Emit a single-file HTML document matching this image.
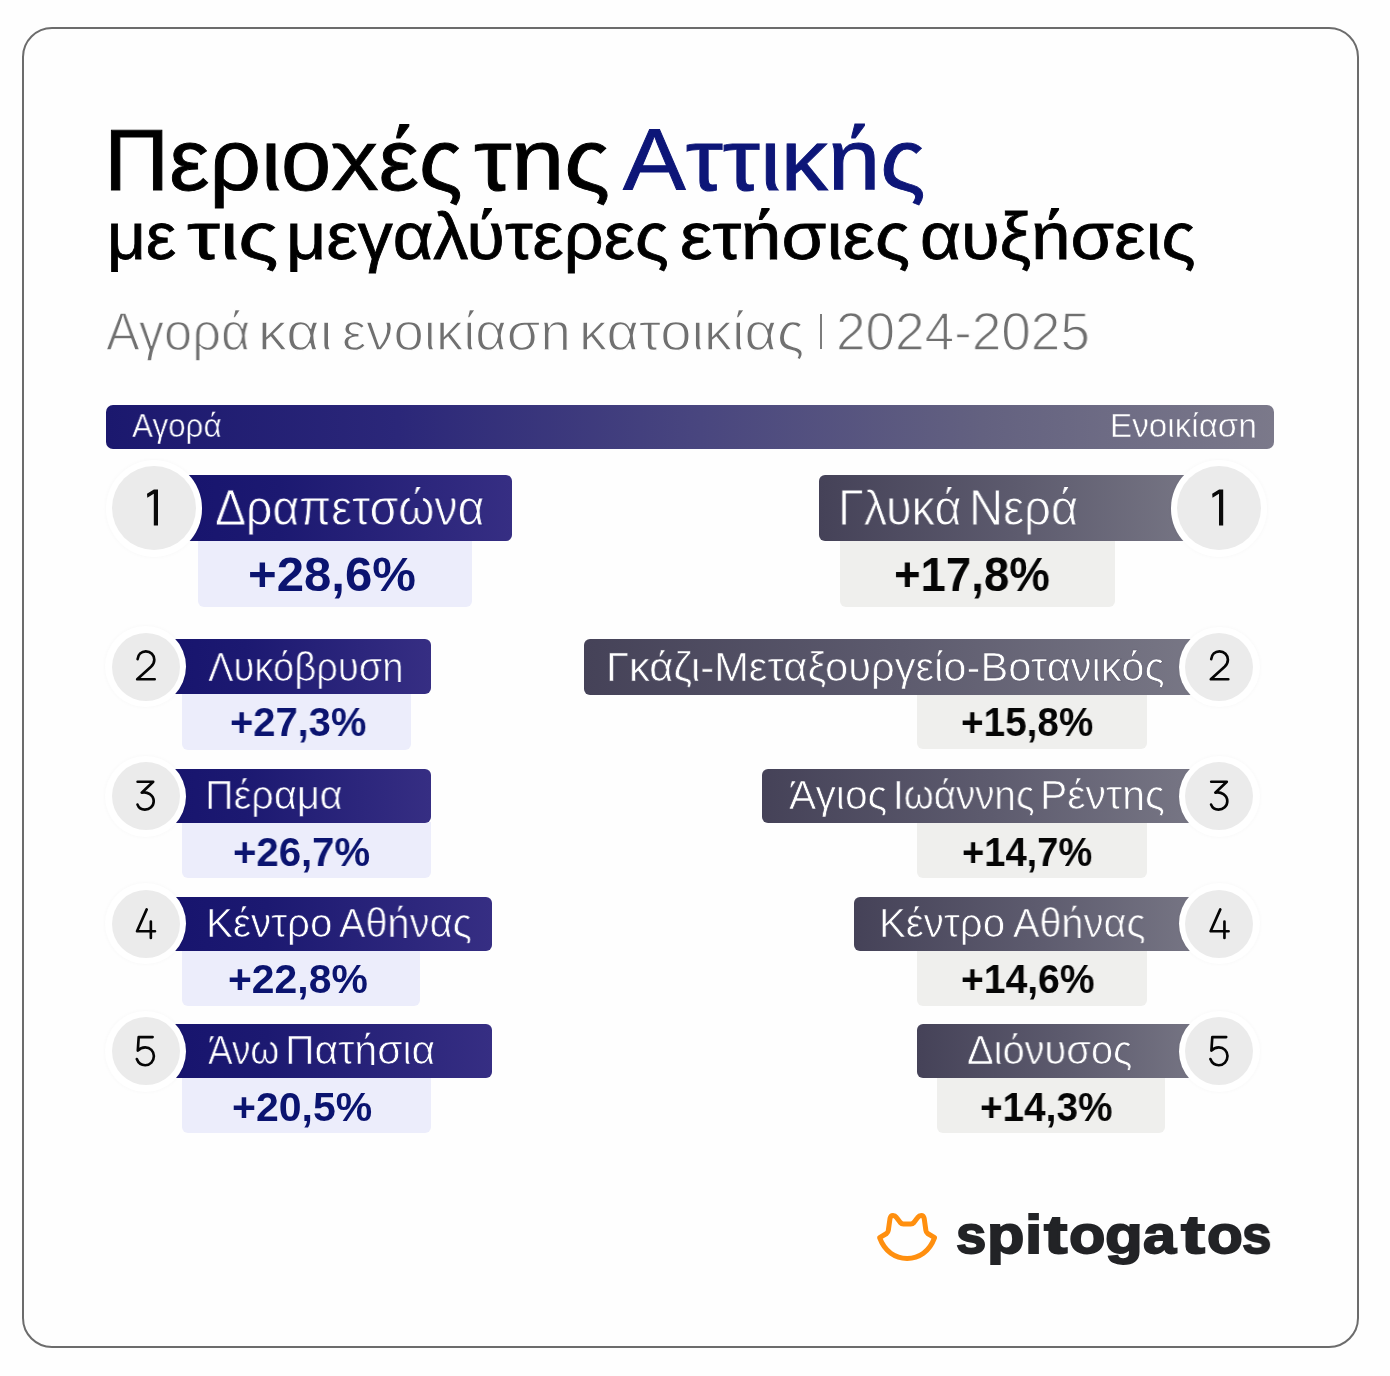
<!DOCTYPE html>
<html><head><meta charset="utf-8"><title>Περιοχές της Αττικής</title>
<style>
html,body{margin:0;padding:0}
body{width:1390px;height:1376px;position:relative;overflow:hidden;background:#fefefe;font-family:"Liberation Sans", sans-serif}
.frame{position:absolute;left:22px;top:27px;width:1332.5px;height:1316.5px;border:2px solid #6c6c6c;border-radius:30px;background:#fefefe}
.b{position:absolute;display:block}
.t{position:absolute;white-space:nowrap;line-height:1;transform-origin:0 0;will-change:transform;}
.h{display:inline-block;clip-path:inset(-50% -5% 15.4% -5%)}
.x{display:inline-block;transform:scaleY(.72);transform-origin:50% 31.6%}
</style></head><body>
<div class="frame"></div>
<div class="b" style="left:105.5px;top:405.0px;width:1168.7px;height:44.3px;border-radius:7px;background:linear-gradient(90deg,#1b186e 0%,#2b2779 25%,#48457f 50%,#636180 75%,#7b798a 100%);"></div>
<div class="b" style="left:819.5px;top:313.6px;width:2.7px;height:35.7px;background:#7c7c7c;"></div>
<div class="b" style="left:197.8px;top:539.8px;width:274.3px;height:67.1px;background:#ecedfb;border-radius:0 0 6px 6px;"></div>
<div class="b" style="left:153.9px;top:475.0px;width:357.9px;height:65.8px;background:linear-gradient(90deg,#16136d 0%,#1c1971 35%,#362e83 100%);border-radius:0 6px 6px 0;"></div>
<div class="b" style="left:105.5px;top:459.8px;width:96.8px;height:96.8px;border-radius:50%;background:#fff;box-shadow:0 0 4px rgba(0,0,0,0.03);"></div>
<div class="b" style="left:111.9px;top:466.2px;width:84.0px;height:84.0px;border-radius:50%;background:#ebebeb;"></div>
<div class="b" style="left:182.3px;top:693.5px;width:228.3px;height:56.1px;background:#ecedfb;border-radius:0 0 6px 6px;"></div>
<div class="b" style="left:145.6px;top:639.2px;width:285.3px;height:55.3px;background:linear-gradient(90deg,#16136d 0%,#1c1971 35%,#362e83 100%);border-radius:0 6px 6px 0;"></div>
<div class="b" style="left:105.2px;top:626.4px;width:80.8px;height:80.8px;border-radius:50%;background:#fff;box-shadow:0 0 4px rgba(0,0,0,0.03);"></div>
<div class="b" style="left:111.6px;top:632.8px;width:68.0px;height:68.0px;border-radius:50%;background:#ebebeb;"></div>
<div class="b" style="left:182.3px;top:821.7px;width:248.6px;height:55.9px;background:#ecedfb;border-radius:0 0 6px 6px;"></div>
<div class="b" style="left:145.8px;top:768.9px;width:285.1px;height:53.8px;background:linear-gradient(90deg,#16136d 0%,#1c1971 35%,#362e83 100%);border-radius:0 6px 6px 0;"></div>
<div class="b" style="left:105.4px;top:755.9px;width:80.8px;height:80.8px;border-radius:50%;background:#fff;box-shadow:0 0 4px rgba(0,0,0,0.03);"></div>
<div class="b" style="left:111.8px;top:762.3px;width:68.0px;height:68.0px;border-radius:50%;background:#ebebeb;"></div>
<div class="b" style="left:182.3px;top:949.9px;width:237.4px;height:55.8px;background:#ecedfb;border-radius:0 0 6px 6px;"></div>
<div class="b" style="left:145.8px;top:896.8px;width:346.6px;height:54.1px;background:linear-gradient(90deg,#16136d 0%,#1c1971 35%,#362e83 100%);border-radius:0 6px 6px 0;"></div>
<div class="b" style="left:105.4px;top:883.2px;width:80.8px;height:80.8px;border-radius:50%;background:#fff;box-shadow:0 0 4px rgba(0,0,0,0.03);"></div>
<div class="b" style="left:111.8px;top:889.6px;width:68.0px;height:68.0px;border-radius:50%;background:#ebebeb;"></div>
<div class="b" style="left:182.3px;top:1077.2px;width:248.6px;height:55.8px;background:#ecedfb;border-radius:0 0 6px 6px;"></div>
<div class="b" style="left:145.8px;top:1024.3px;width:346.6px;height:53.9px;background:linear-gradient(90deg,#16136d 0%,#1c1971 35%,#362e83 100%);border-radius:0 6px 6px 0;"></div>
<div class="b" style="left:105.4px;top:1010.9px;width:80.8px;height:80.8px;border-radius:50%;background:#fff;box-shadow:0 0 4px rgba(0,0,0,0.03);"></div>
<div class="b" style="left:111.8px;top:1017.3px;width:68.0px;height:68.0px;border-radius:50%;background:#ebebeb;"></div>
<div class="b" style="left:840.4px;top:539.8px;width:274.5px;height:67.1px;background:#efefed;border-radius:0 0 6px 6px;"></div>
<div class="b" style="left:818.6px;top:475.0px;width:400.4px;height:65.8px;background:linear-gradient(90deg,#454258 0%,#5d5b6e 50%,#7a7987 100%);border-radius:6px 0 0 6px;"></div>
<div class="b" style="left:1170.6px;top:459.8px;width:96.8px;height:96.8px;border-radius:50%;background:#fff;box-shadow:0 0 4px rgba(0,0,0,0.03);"></div>
<div class="b" style="left:1177.0px;top:466.2px;width:84.0px;height:84.0px;border-radius:50%;background:#ebebeb;"></div>
<div class="b" style="left:917.2px;top:693.6px;width:230.1px;height:55.9px;background:#efefed;border-radius:0 0 6px 6px;"></div>
<div class="b" style="left:583.5px;top:639.2px;width:635.8px;height:55.4px;background:linear-gradient(90deg,#454258 0%,#5d5b6e 50%,#7a7987 100%);border-radius:6px 0 0 6px;"></div>
<div class="b" style="left:1178.9px;top:626.5px;width:80.8px;height:80.8px;border-radius:50%;background:#fff;box-shadow:0 0 4px rgba(0,0,0,0.03);"></div>
<div class="b" style="left:1185.3px;top:632.9px;width:68.0px;height:68.0px;border-radius:50%;background:#ebebeb;"></div>
<div class="b" style="left:917.3px;top:821.6px;width:230.2px;height:56.2px;background:#efefed;border-radius:0 0 6px 6px;"></div>
<div class="b" style="left:761.8px;top:768.8px;width:457.5px;height:53.8px;background:linear-gradient(90deg,#454258 0%,#5d5b6e 50%,#7a7987 100%);border-radius:6px 0 0 6px;"></div>
<div class="b" style="left:1178.9px;top:755.9px;width:80.8px;height:80.8px;border-radius:50%;background:#fff;box-shadow:0 0 4px rgba(0,0,0,0.03);"></div>
<div class="b" style="left:1185.3px;top:762.3px;width:68.0px;height:68.0px;border-radius:50%;background:#ebebeb;"></div>
<div class="b" style="left:917.3px;top:950.0px;width:230.2px;height:55.5px;background:#efefed;border-radius:0 0 6px 6px;"></div>
<div class="b" style="left:853.6px;top:897.0px;width:365.7px;height:54.0px;background:linear-gradient(90deg,#454258 0%,#5d5b6e 50%,#7a7987 100%);border-radius:6px 0 0 6px;"></div>
<div class="b" style="left:1178.9px;top:883.2px;width:80.8px;height:80.8px;border-radius:50%;background:#fff;box-shadow:0 0 4px rgba(0,0,0,0.03);"></div>
<div class="b" style="left:1185.3px;top:889.6px;width:68.0px;height:68.0px;border-radius:50%;background:#ebebeb;"></div>
<div class="b" style="left:936.7px;top:1077.4px;width:228.7px;height:55.5px;background:#efefed;border-radius:0 0 6px 6px;"></div>
<div class="b" style="left:917.3px;top:1024.3px;width:302.0px;height:54.1px;background:linear-gradient(90deg,#454258 0%,#5d5b6e 50%,#7a7987 100%);border-radius:6px 0 0 6px;"></div>
<div class="b" style="left:1178.9px;top:1010.9px;width:80.8px;height:80.8px;border-radius:50%;background:#fff;box-shadow:0 0 4px rgba(0,0,0,0.03);"></div>
<div class="b" style="left:1185.3px;top:1017.3px;width:68.0px;height:68.0px;border-radius:50%;background:#ebebeb;"></div>
<svg class="b" style="left:0;top:0" width="1390" height="1376" viewBox="0 0 1390 1376">
<path d="M 879.6 1237.6 L 886.6 1233.5 Q 888 1232.5 888.3 1230.5 L 890 1218.5 Q 890.6 1215.4 893 1215.4 Q 895 1215.4 896.5 1217.5 L 900.3 1222.5 Q 901.5 1223.9 903.5 1223.9 L 910.7 1223.9 Q 912.7 1223.9 913.9 1222.5 L 917.7 1217.5 Q 919.2 1215.4 921.2 1215.4 Q 923.6 1215.4 924.2 1218.5 L 925.9 1230.5 Q 926.2 1232.5 927.6 1233.5 L 934.6 1237.6 C 929.5 1251.5 919 1258.4 907.1 1258.4 C 895.2 1258.4 884.7 1251.5 879.6 1237.6 Z" fill="none" stroke="#ff8f0f" stroke-width="5" stroke-linejoin="round" stroke-linecap="round"/>
<path d="M153.9 489.4 L158 489.4 L158 525.4 L153.8 525.4 L153.8 493.7 L147.3 497.7 L147 493.7 Z" fill="#0a0a0a"/>
<path d="M153.9 489.4 L158 489.4 L158 525.4 L153.8 525.4 L153.8 493.7 L147.3 497.7 L147 493.7 Z" fill="#0a0a0a" transform="translate(1065.2 0)"/>
<g fill="none" stroke="#050505" stroke-width="2.65" stroke-linecap="round" stroke-linejoin="round">
<path d="M1211.2 659.2 C1211.6 654.6 1215 651.4 1219.4 651.4 C1224.2 651.4 1227.9 655 1227.9 659.8 C1227.9 662.6 1226.9 664.6 1224.6 666.8 L1210.8 679.25 H1228.3"/>
<path d="M1211.2 659.2 C1211.6 654.6 1215 651.4 1219.4 651.4 C1224.2 651.4 1227.9 655 1227.9 659.8 C1227.9 662.6 1226.9 664.6 1224.6 666.8 L1210.8 679.25 H1228.3" transform="translate(-1073.6 0)"/>
<path d="M1211.2 781.7 H1226.8 L1215.3 792.7 C1221 791.4 1227.3 795 1227.3 801.3 C1227.3 806.4 1223.2 809.6 1218.5 809.6 C1214.7 809.6 1212.2 807.6 1211.1 804.6"/>
<path d="M1211.2 781.7 H1226.8 L1215.3 792.7 C1221 791.4 1227.3 795 1227.3 801.3 C1227.3 806.4 1223.2 809.6 1218.5 809.6 C1214.7 809.6 1212.2 807.6 1211.1 804.6" transform="translate(-1073.6 0)"/>
<path d="M1220.3 909.4 L1210.6 931.2 H1228.6 M1224.45 921.6 V938.0"/>
<path d="M1220.3 909.4 L1210.6 931.2 H1228.6 M1224.45 921.6 V938.0" transform="translate(-1073.6 0)"/>
<path d="M1226.2 1037.05 H1212.3 L1211.4 1050.7 C1213.2 1048.6 1215.8 1047.3 1218.8 1047.3 C1223.7 1047.3 1227.5 1051.1 1227.5 1056.1 C1227.5 1061.2 1223.7 1065.2 1218.8 1065.2 C1214.8 1065.2 1211.8 1062.7 1210.4 1059.0"/>
<path d="M1226.2 1037.05 H1212.3 L1211.4 1050.7 C1213.2 1048.6 1215.8 1047.3 1218.8 1047.3 C1223.7 1047.3 1227.5 1051.1 1227.5 1056.1 C1227.5 1061.2 1223.7 1065.2 1218.8 1065.2 C1214.8 1065.2 1211.8 1062.7 1210.4 1059.0" transform="translate(-1073.6 0)"/>
</g>
</svg>
<div class="t" style="left:103.89px;top:115.82px;font-size:87.10px;font-weight:400;color:#000;transform:scaleX(1.0373);-webkit-text-stroke:0.90px #000;">Περιο<span class="x">χ</span>ές</div>
<div class="t" style="left:473.85px;top:115.82px;font-size:87.10px;font-weight:400;color:#000;transform:scaleX(1.0906);-webkit-text-stroke:0.90px #000;">τ<span class="h">η</span>ς</div>
<div class="t" style="left:622.95px;top:115.82px;font-size:87.10px;font-weight:400;color:#0d1678;transform:scaleX(1.0795);-webkit-text-stroke:0.90px #0d1678;">Αττικ<span class="h">ή</span>ς</div>
<div class="t" style="left:106.67px;top:203.17px;font-size:66.67px;font-weight:400;color:#000;transform:scaleX(1.0156);-webkit-text-stroke:0.80px #000;">με</div>
<div class="t" style="left:187.00px;top:203.17px;font-size:66.67px;font-weight:400;color:#000;transform:scaleX(1.2487);-webkit-text-stroke:0.80px #000;">τις</div>
<div class="t" style="left:286.22px;top:203.17px;font-size:66.67px;font-weight:400;color:#000;transform:scaleX(1.0516);-webkit-text-stroke:0.80px #000;">μεγαλύτερες</div>
<div class="t" style="left:679.63px;top:203.17px;font-size:66.67px;font-weight:400;color:#000;transform:scaleX(1.0902);-webkit-text-stroke:0.80px #000;">ετ<span class="h">ή</span>σιες</div>
<div class="t" style="left:920.19px;top:203.17px;font-size:66.67px;font-weight:400;color:#000;transform:scaleX(1.0609);-webkit-text-stroke:0.80px #000;">αυξ<span class="h">ή</span>σεις</div>
<div class="t" style="left:105.55px;top:304.19px;font-size:54.06px;font-weight:400;color:#707070;transform:scaleX(0.9352);-webkit-text-stroke:1.30px #fefefe;">Αγορά</div>
<div class="t" style="left:257.73px;top:304.19px;font-size:54.06px;font-weight:400;color:#707070;transform:scaleX(1.0702);-webkit-text-stroke:1.30px #fefefe;">και</div>
<div class="t" style="left:342.25px;top:304.19px;font-size:54.06px;font-weight:400;color:#707070;transform:scaleX(1.0086);-webkit-text-stroke:1.30px #fefefe;">ενοικίασ<span class="h">η</span></div>
<div class="t" style="left:579.34px;top:304.19px;font-size:54.06px;font-weight:400;color:#707070;transform:scaleX(1.0393);-webkit-text-stroke:1.30px #fefefe;">κατοικίας</div>
<div class="t" style="left:836.46px;top:304.19px;font-size:54.06px;font-weight:400;color:#707070;transform:scaleX(0.9823);-webkit-text-stroke:1.30px #fefefe;">2024-2025</div>
<div class="t" style="left:132.45px;top:409.55px;font-size:32.61px;font-weight:400;color:#fff;transform:scaleX(0.9634);-webkit-text-stroke:0.50px #1f1c71;">Αγορά</div>
<div class="t" style="left:1109.65px;top:409.55px;font-size:32.61px;font-weight:400;color:#fff;transform:scaleX(1.0192);-webkit-text-stroke:0.50px #747287;">Ενοικίασ<span class="h">η</span></div>
<div class="t" style="left:215.35px;top:484.29px;font-size:49.07px;font-weight:400;color:#fff;transform:scaleX(0.9458);-webkit-text-stroke:0.86px #241f77;">Δραπετσώνα</div>
<div class="t" style="left:207.95px;top:647.97px;font-size:40.14px;font-weight:400;color:#fff;transform:scaleX(0.9513);-webkit-text-stroke:0.70px #242077;">Λυκόβρυσ<span class="h">η</span></div>
<div class="t" style="left:205.35px;top:776.07px;font-size:40.14px;font-weight:400;color:#fff;transform:scaleX(0.9882);-webkit-text-stroke:0.70px #201c74;">Πέραμα</div>
<div class="t" style="left:205.59px;top:903.97px;font-size:40.14px;font-weight:400;color:#fff;transform:scaleX(1.0066);-webkit-text-stroke:0.70px #1c1971;">Κέντρο</div>
<div class="t" style="left:338.95px;top:903.97px;font-size:40.14px;font-weight:400;color:#fff;transform:scaleX(0.9902);-webkit-text-stroke:0.70px #2c267c;">Αθ<span class="h">ή</span>νας</div>
<div class="t" style="left:208.15px;top:1031.37px;font-size:40.14px;font-weight:400;color:#fff;transform:scaleX(0.9220);-webkit-text-stroke:0.70px #1b1870;">Άνω</div>
<div class="t" style="left:284.95px;top:1031.37px;font-size:40.14px;font-weight:400;color:#fff;transform:scaleX(1.0201);-webkit-text-stroke:0.70px #272279;">Πατ<span class="h">ή</span>σια</div>
<div class="t" style="left:837.72px;top:484.19px;font-size:49.07px;font-weight:400;color:#fff;transform:scaleX(0.9531);-webkit-text-stroke:0.86px #4f4c61;">Γλυκά</div>
<div class="t" style="left:969.29px;top:484.19px;font-size:49.07px;font-weight:400;color:#fff;transform:scaleX(0.9612);-webkit-text-stroke:0.86px #5e5c6f;">Νερά</div>
<div class="t" style="left:606.39px;top:648.17px;font-size:40.14px;font-weight:400;color:#fff;transform:scaleX(1.0388);-webkit-text-stroke:0.70px #5c5a6d;">Γκάζι-Μεταξουργείο-Βοτανικός</div>
<div class="t" style="left:788.75px;top:776.07px;font-size:40.14px;font-weight:400;color:#fff;transform:scaleX(1.0159);-webkit-text-stroke:0.70px #4d4a5f;">Άγιος</div>
<div class="t" style="left:893.04px;top:776.07px;font-size:40.14px;font-weight:400;color:#fff;transform:scaleX(0.9586);-webkit-text-stroke:0.70px #5a586c;">Ιωάνν<span class="h">η</span>ς</div>
<div class="t" style="left:1040.25px;top:776.07px;font-size:40.14px;font-weight:400;color:#fff;transform:scaleX(1.0205);-webkit-text-stroke:0.70px #6b6a7a;">Ρέντ<span class="h">η</span>ς</div>
<div class="t" style="left:879.40px;top:904.07px;font-size:40.14px;font-weight:400;color:#fff;transform:scaleX(1.0033);-webkit-text-stroke:0.70px #514e63;">Κέντρο</div>
<div class="t" style="left:1013.05px;top:904.07px;font-size:40.14px;font-weight:400;color:#fff;transform:scaleX(0.9887);-webkit-text-stroke:0.70px #646274;">Αθ<span class="h">ή</span>νας</div>
<div class="t" style="left:967.13px;top:1031.47px;font-size:40.14px;font-weight:400;color:#fff;transform:scaleX(0.9930);-webkit-text-stroke:0.70px #5a586b;">Διόνυσος</div>
<div class="t" style="left:248.27px;top:550.32px;font-size:49.00px;font-weight:700;color:#0b1470;transform:scaleX(1.0023);">+28,6%</div>
<div class="t" style="left:229.75px;top:702.24px;font-size:40.71px;font-weight:700;color:#0b1470;transform:scaleX(0.9798);">+27,3%</div>
<div class="t" style="left:233.45px;top:831.74px;font-size:40.71px;font-weight:700;color:#0b1470;transform:scaleX(0.9849);">+26,7%</div>
<div class="t" style="left:228.12px;top:958.84px;font-size:40.71px;font-weight:700;color:#0b1470;transform:scaleX(1.0039);">+22,8%</div>
<div class="t" style="left:232.12px;top:1086.91px;font-size:40.86px;font-weight:700;color:#0b1470;transform:scaleX(1.0033);">+20,5%</div>
<div class="t" style="left:893.98px;top:550.32px;font-size:49.00px;font-weight:700;color:#050505;transform:scaleX(0.9297);">+17,8%</div>
<div class="t" style="left:961.39px;top:702.24px;font-size:40.71px;font-weight:700;color:#050505;transform:scaleX(0.9507);">+15,8%</div>
<div class="t" style="left:962.41px;top:831.74px;font-size:40.71px;font-weight:700;color:#050505;transform:scaleX(0.9362);">+14,7%</div>
<div class="t" style="left:961.18px;top:958.84px;font-size:40.71px;font-weight:700;color:#050505;transform:scaleX(0.9595);">+14,6%</div>
<div class="t" style="left:980.19px;top:1086.91px;font-size:40.86px;font-weight:700;color:#050505;transform:scaleX(0.9474);">+14,3%</div>
<div class="t" style="left:956.31px;top:1208.21px;font-size:54.56px;font-weight:700;color:#222326;transform:scaleX(0.9914);-webkit-text-stroke:1.80px #222326;">s</div>
<div class="t" style="left:987.47px;top:1208.21px;font-size:54.56px;font-weight:700;color:#222326;transform:scaleX(1.1233);-webkit-text-stroke:1.80px #222326;">p</div>
<div class="t" style="left:1025.32px;top:1208.21px;font-size:54.56px;font-weight:700;color:#222326;transform:scaleX(1.1378);-webkit-text-stroke:1.80px #222326;">i</div>
<div class="t" style="left:1043.50px;top:1208.21px;font-size:54.56px;font-weight:700;color:#222326;transform:scaleX(1.2903);-webkit-text-stroke:1.80px #222326;">t</div>
<div class="t" style="left:1068.94px;top:1208.21px;font-size:54.56px;font-weight:700;color:#222326;transform:scaleX(1.0926);-webkit-text-stroke:1.80px #222326;">o</div>
<div class="t" style="left:1105.17px;top:1208.21px;font-size:54.56px;font-weight:700;color:#222326;transform:scaleX(1.1339);-webkit-text-stroke:1.80px #222326;">g</div>
<div class="t" style="left:1143.47px;top:1208.21px;font-size:54.56px;font-weight:700;color:#222326;transform:scaleX(1.0926);-webkit-text-stroke:1.80px #222326;">a</div>
<div class="t" style="left:1180.70px;top:1208.21px;font-size:54.56px;font-weight:700;color:#222326;transform:scaleX(1.3183);-webkit-text-stroke:1.80px #222326;">t</div>
<div class="t" style="left:1206.67px;top:1208.21px;font-size:54.56px;font-weight:700;color:#222326;transform:scaleX(1.0758);-webkit-text-stroke:1.80px #222326;">o</div>
<div class="t" style="left:1242.45px;top:1208.21px;font-size:54.56px;font-weight:700;color:#222326;transform:scaleX(0.9687);-webkit-text-stroke:1.80px #222326;">s</div>
</body></html>
